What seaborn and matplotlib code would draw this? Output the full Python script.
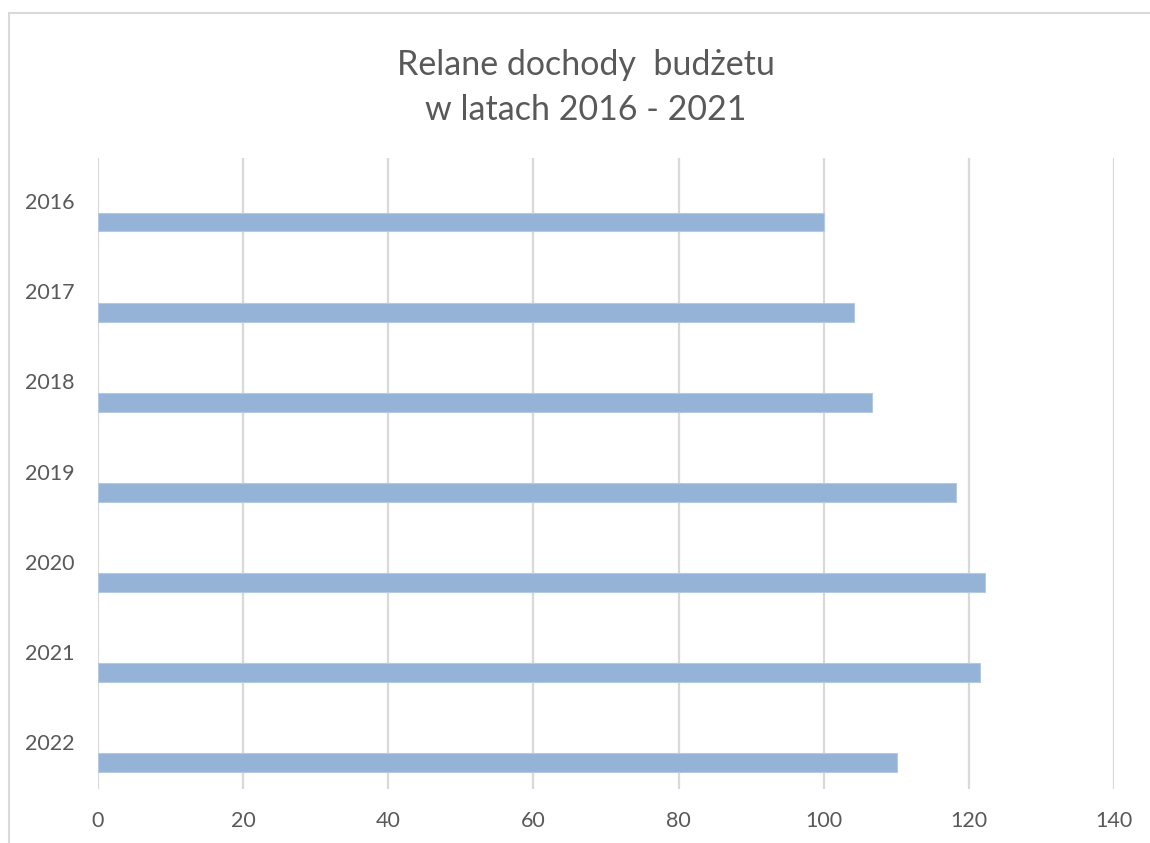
import matplotlib
matplotlib.use("Agg")
import matplotlib.pyplot as plt
import seaborn as sns
import pandas as pd
from matplotlib.lines import Line2D

# ---- data ----
years = ["2016", "2017", "2018", "2019", "2020", "2021", "2022"]
values = [100.0, 104.2, 106.7, 118.2, 122.2, 121.5, 110.1]
series_name = "Dochody"
x_ticks = [0, 20, 40, 60, 80, 100, 120, 140]
title_line1 = "Relane dochody  budżetu"
title_line2 = "w latach 2016 - 2021"

bar_color = "#95B3D7"
text_color = "#595959"
grid_color = "#D9D9D9"

sns.set_theme(style="white")
plt.rcParams["font.family"] = ["Lato", "DejaVu Sans"]

df = pd.DataFrame({"rok": years, "wartosc": values, "seria": [series_name] * len(years)})

fig = plt.figure(figsize=(11.5, 8.43), dpi=100)
ax = fig.add_axes([97.7 / 1150, 1 - 789 / 843, (1114.3 - 97.7) / 1150, (789 - 158) / 843])

# Excel-style clustered bar: series sits in third slot of the cluster
hue_order = ["_s1", "_s2", series_name]
sns.barplot(data=df, y="rok", x="wartosc", hue="seria", hue_order=hue_order,
            palette={"_s1": bar_color, "_s2": bar_color, series_name: bar_color},
            order=years, orient="h", width=0.63, dodge=True, legend=False,
            saturation=1, edgecolor="#B4C9E3", linewidth=0.8, ax=ax, zorder=3)

ax.set_xlim(0, 140)
ax.set_xticks(x_ticks)
ax.set_xticklabels([str(t) for t in x_ticks])
ax.set_xlabel("")
ax.set_ylabel("")
for s in ax.spines.values():
    s.set_visible(False)
ax.grid(axis="x", color=grid_color, linewidth=1.6, zorder=0)
ax.grid(axis="y", visible=False)
ax.set_axisbelow(True)
ax.tick_params(axis="x", length=0, pad=16, labelsize=15.5, labelcolor=text_color)
ax.tick_params(axis="y", length=0, pad=16.5, labelsize=15.5, labelcolor=text_color)
for lbl in ax.get_yticklabels():
    lbl.set_verticalalignment("center")

fig.text(586 / 1150, 1 - 75 / 843, title_line1, ha="center", va="baseline",
         fontsize=24.5, color=text_color)
fig.text(586 / 1150, 1 - 120 / 843, title_line2, ha="center", va="baseline",
         fontsize=24.5, color=text_color)

# chart-area border (cropped: only top and left edges visible)
fig.add_artist(Line2D([9.3 / 1150, 9.3 / 1150], [0, 1 - 13.3 / 843], transform=fig.transFigure,
                      color=grid_color, linewidth=1.5))
fig.add_artist(Line2D([9.3 / 1150, 1], [1 - 13.3 / 843, 1 - 13.3 / 843], transform=fig.transFigure,
                      color=grid_color, linewidth=1.5))

fig.savefig("out.png", dpi=100, facecolor="white")
